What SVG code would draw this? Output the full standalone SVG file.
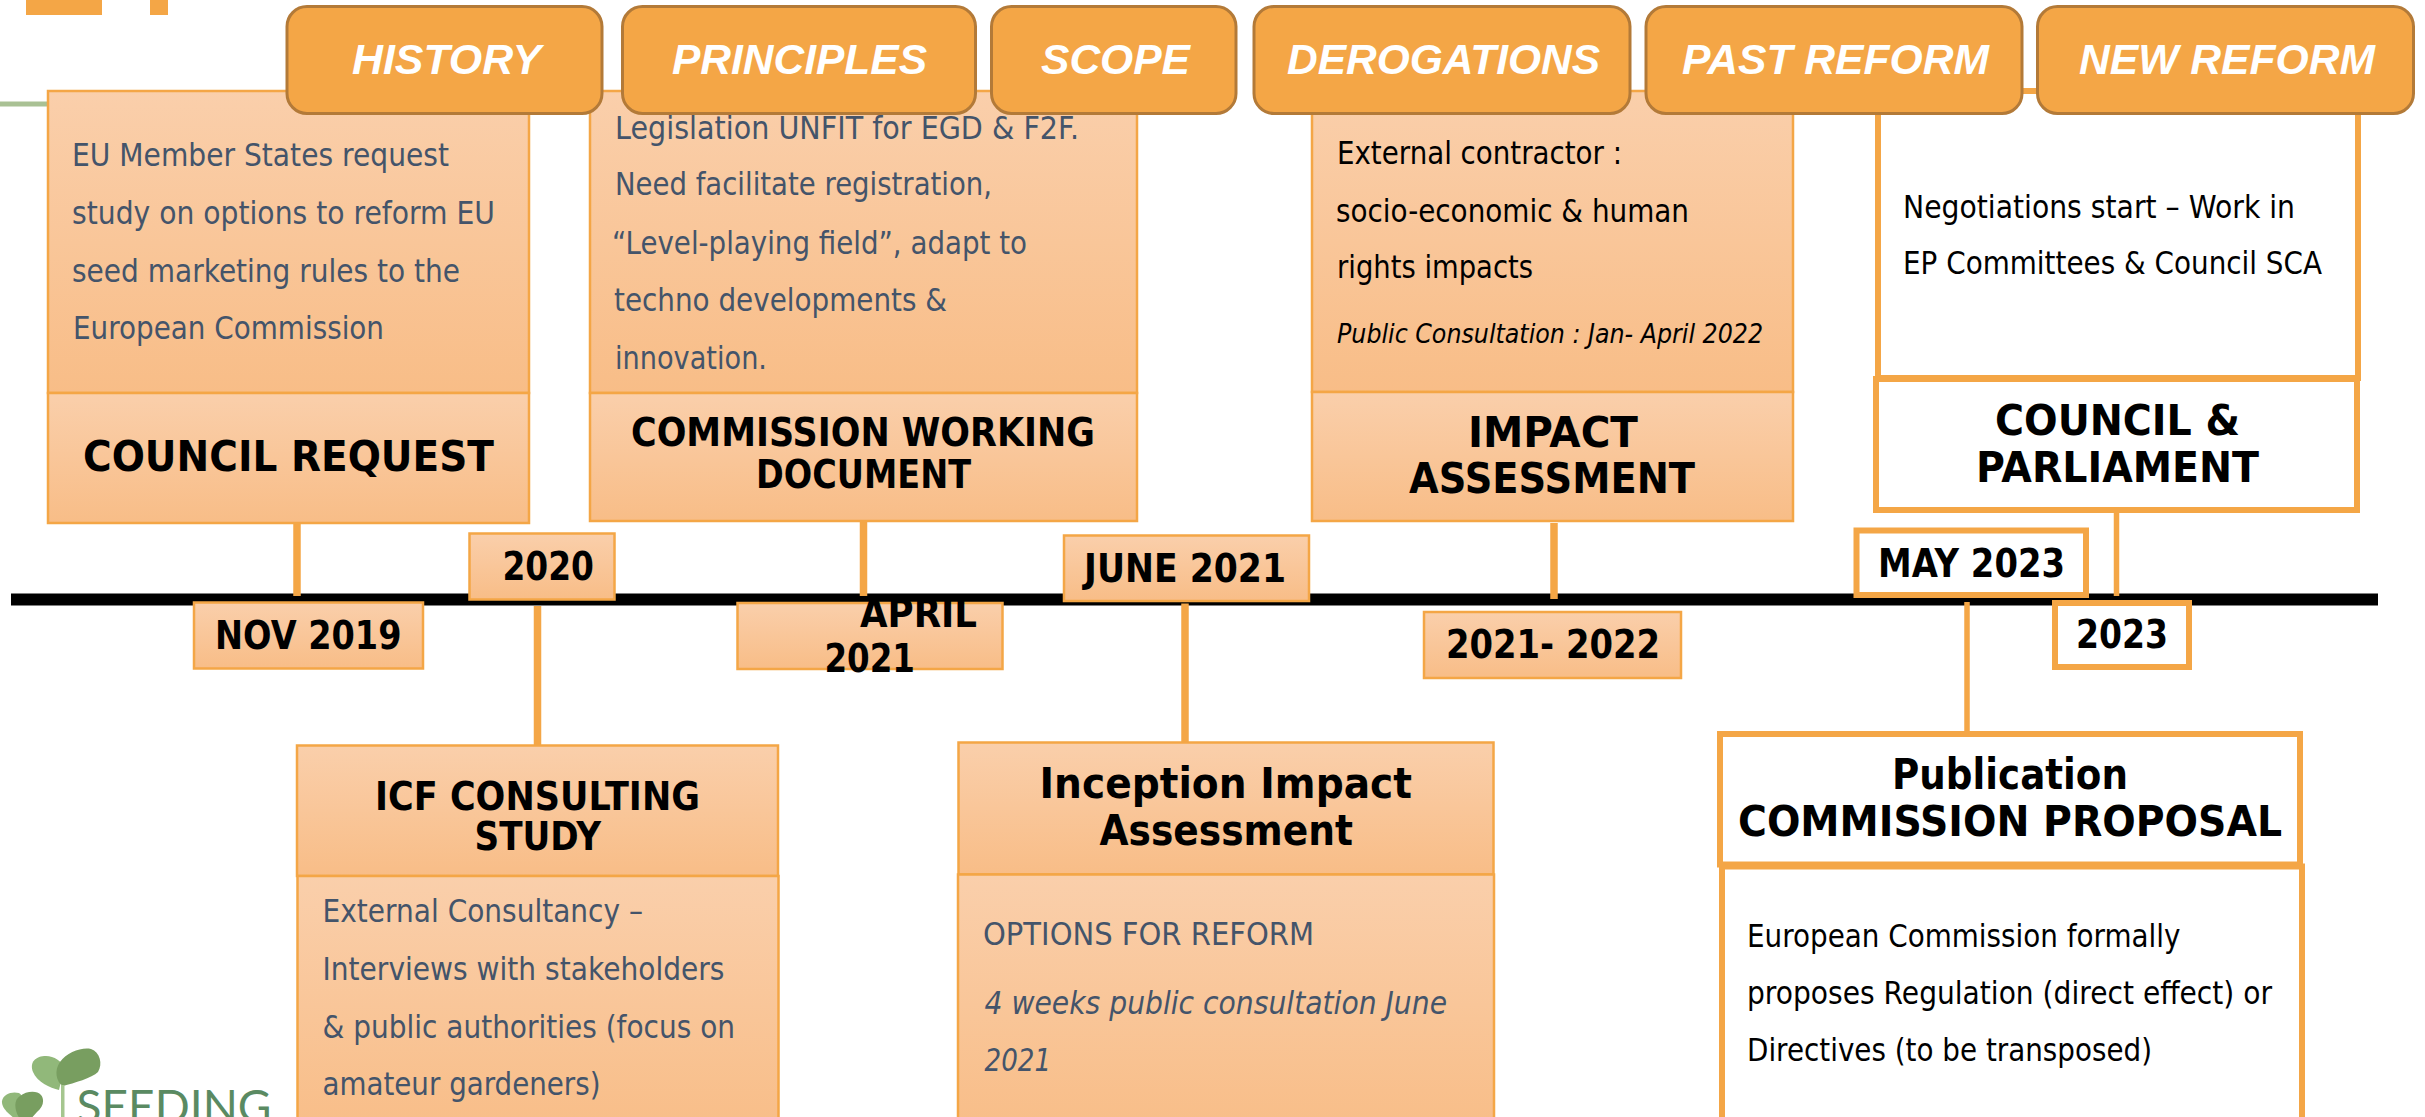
<svg xmlns="http://www.w3.org/2000/svg" width="2425" height="1117" viewBox="0 0 2425 1117">
<defs>
<linearGradient id="g" x1="0" y1="0" x2="0" y2="1"><stop offset="0" stop-color="#FACFAB"/><stop offset="1" stop-color="#F8BD87"/></linearGradient>
</defs>
<style>
text{font-family:"DejaVu Sans","Liberation Sans",sans-serif}
.a{fill:url(#g);stroke:#F4A646;stroke-width:2.5}
.w{fill:#fff;stroke:#F4A646;stroke-width:6}
.p{fill:#F4A646;stroke:#B37A38;stroke-width:3}
.pt{font-family:"Liberation Sans",Arial,sans-serif;font-weight:700;font-style:italic;font-size:42px;fill:#fff}
.t{font-weight:700;font-size:39px;fill:#000}
.T{font-weight:700;font-size:43px;fill:#000}
.b{font-size:32px;fill:#44546A}
.k{font-size:32px;fill:#000}
.c{stroke:#F4A646;stroke-width:7.5}
</style>
<g id="decor"><rect x="26" y="0" width="76" height="15" fill="#F4A646"/><rect x="150" y="0" width="18" height="15" fill="#F4A646"/><rect x="0" y="101.500" width="50" height="5" fill="#A9C194"/></g>
<g id="logo">
<path d="M59 1090C50 1088 37 1082 33 1072C29 1062 36 1056 46 1056C54 1056 62 1061 64 1068Z" fill="#91B87A"/>
<path d="M63 1086C56 1082 54 1070 60 1062C67 1052 82 1047 91 1049C100 1052 103 1064 98 1072C92 1078 74 1083 63 1086Z" fill="#789E60"/>
<path d="M20 1122C10 1116 1 1108 2 1101C3 1094 12 1091 19 1093C25 1097 27 1110 25 1122Z" fill="#91B87A"/>
<path d="M22 1122C14 1112 13 1100 20 1096C26 1091 37 1090 41 1095C45 1100 43 1107 37 1112L28 1122Z" fill="#789E60"/>
<rect x="61" y="1085" width="3.500" height="32" fill="#A5C68F"/>
<text x="76.500" y="1123" font-size="47" font-weight="400" fill="#5A8A62" style="font-family:Lato,'Open Sans',sans-serif" textLength="195" lengthAdjust="spacingAndGlyphs">SEEDING</text>
</g>
<g id="timeline"><rect x="11" y="593.500" width="2367" height="12" fill="#000"/></g>
<g id="connectors">
<line class="c" x1="297" y1="520" x2="297" y2="596"/>
<line class="c" x1="537.500" y1="606" x2="537.500" y2="748"/>
<line class="c" x1="863.500" y1="521" x2="863.500" y2="596"/>
<line class="c" x1="1185" y1="603.500" x2="1185" y2="743"/>
<line class="c" x1="1554" y1="523" x2="1554" y2="599"/>
<line class="c" x1="1967" y1="602" x2="1967" y2="741" style="stroke-width:5.500"/>
<line class="c" x1="2116.500" y1="510" x2="2116.500" y2="596" style="stroke-width:5.500"/>
</g>
<g id="council-request">
<rect class="a" x="48" y="91" width="481" height="302"/><rect class="a" x="48" y="393" width="481" height="130"/>
<g class="b"><text x="72" y="166" textLength="377" lengthAdjust="spacingAndGlyphs">EU Member States request</text><text x="72" y="224" textLength="423" lengthAdjust="spacingAndGlyphs">study on options to reform EU</text><text x="72" y="282" textLength="388" lengthAdjust="spacingAndGlyphs">seed marketing rules to the</text><text x="73" y="339" textLength="311" lengthAdjust="spacingAndGlyphs">European Commission</text></g>
<text class="T" x="83" y="471" textLength="411" lengthAdjust="spacingAndGlyphs">COUNCIL REQUEST</text></g>
<g id="working-document">
<rect class="a" x="590" y="91" width="547" height="302"/><rect class="a" x="590" y="393" width="547" height="128"/>
<g class="b"><text x="615" y="138.500" textLength="464" lengthAdjust="spacingAndGlyphs">Legislation UNFIT for EGD &amp; F2F.</text><text x="615" y="195" textLength="377" lengthAdjust="spacingAndGlyphs">Need facilitate registration,</text><text x="612" y="253.500" textLength="415" lengthAdjust="spacingAndGlyphs">“Level-playing field”, adapt to</text><text x="614" y="310.500" textLength="333" lengthAdjust="spacingAndGlyphs">techno developments &amp;</text><text x="615" y="368.500" textLength="152" lengthAdjust="spacingAndGlyphs">innovation.</text></g>
<text class="t" x="631" y="446" textLength="464" lengthAdjust="spacingAndGlyphs">COMMISSION WORKING</text><text class="t" x="756" y="487.500" textLength="215" lengthAdjust="spacingAndGlyphs">DOCUMENT</text></g>
<g id="impact-assessment">
<rect class="a" x="1312" y="91" width="481" height="301"/><rect class="a" x="1312" y="392" width="481" height="129"/>
<g fill="#000"><text class="k" x="1337" y="163.500" textLength="285" lengthAdjust="spacingAndGlyphs">External contractor :</text><text class="k" x="1336" y="221.500" textLength="353" lengthAdjust="spacingAndGlyphs">socio-economic &amp; human</text><text class="k" x="1337" y="278" textLength="196" lengthAdjust="spacingAndGlyphs">rights impacts</text><text x="1337" y="343" font-size="27" font-style="italic" textLength="426" lengthAdjust="spacingAndGlyphs">Public Consultation : Jan- April 2022</text></g>
<text class="T" x="1468" y="446.500" textLength="170" lengthAdjust="spacingAndGlyphs">IMPACT</text><text class="T" x="1409" y="493" textLength="286" lengthAdjust="spacingAndGlyphs">ASSESSMENT</text></g>
<g id="council-parliament">
<rect class="w" x="1878" y="91" width="480" height="287"/><rect class="w" x="1876" y="379" width="481" height="131"/>
<text class="k" x="1903" y="218" textLength="392" lengthAdjust="spacingAndGlyphs">Negotiations start – Work in</text><text class="k" x="1903" y="274" textLength="419" lengthAdjust="spacingAndGlyphs">EP Committees &amp; Council SCA</text>
<text class="T" x="1995" y="435" textLength="245" lengthAdjust="spacingAndGlyphs">COUNCIL &amp;</text><text class="T" x="1976" y="481.500" textLength="283" lengthAdjust="spacingAndGlyphs">PARLIAMENT</text></g>
<g id="nov-2019"><rect class="a" x="194" y="602.500" width="229" height="66"/><text class="t" x="215" y="648.500" textLength="186.500" lengthAdjust="spacingAndGlyphs">NOV 2019</text></g>
<g id="y2020"><rect class="a" x="469.500" y="533.500" width="145" height="66"/><text class="t" x="502.500" y="579.500" textLength="91.500" lengthAdjust="spacingAndGlyphs">2020</text></g>
<g id="april-2021"><rect class="a" x="737.500" y="603" width="265" height="66"/><text class="t" x="860" y="626.500" textLength="117" lengthAdjust="spacingAndGlyphs">APRIL</text><text class="t" x="824.500" y="671.500" textLength="90.500" lengthAdjust="spacingAndGlyphs">2021</text></g>
<g id="june-2021"><rect class="a" x="1064" y="535.500" width="245" height="65.500"/><text class="t" x="1084" y="581.500" textLength="202" lengthAdjust="spacingAndGlyphs">JUNE 2021</text></g>
<g id="y2021-2022"><rect class="a" x="1424" y="612" width="257" height="66"/><text class="t" x="1446" y="657.500" textLength="214" lengthAdjust="spacingAndGlyphs">2021- 2022</text></g>
<g id="may-2023"><rect class="w" x="1856.500" y="530.500" width="229.500" height="64.500"/><text class="t" x="1878" y="577" textLength="187" lengthAdjust="spacingAndGlyphs">MAY 2023</text></g>
<g id="y2023"><rect class="w" x="2055" y="603" width="134" height="64"/><text class="t" x="2076" y="647.500" textLength="92" lengthAdjust="spacingAndGlyphs">2023</text></g>
<g id="icf-study">
<rect class="a" x="297" y="745.500" width="481" height="130.500"/><rect class="a" x="297.500" y="876" width="481" height="260"/>
<text class="t" x="375" y="810" textLength="325" lengthAdjust="spacingAndGlyphs">ICF CONSULTING</text><text class="t" x="474.500" y="849.500" textLength="126.500" lengthAdjust="spacingAndGlyphs">STUDY</text>
<g class="b"><text x="322.500" y="922" textLength="320.500" lengthAdjust="spacingAndGlyphs">External Consultancy –</text><text x="322.500" y="980" textLength="402" lengthAdjust="spacingAndGlyphs">Interviews with stakeholders</text><text x="322.500" y="1037.500" textLength="412.500" lengthAdjust="spacingAndGlyphs">&amp; public authorities (focus on</text><text x="322.500" y="1095" textLength="278" lengthAdjust="spacingAndGlyphs">amateur gardeners)</text></g></g>
<g id="inception">
<rect class="a" x="958.500" y="742.500" width="535" height="132"/><rect class="a" x="958" y="874.500" width="536" height="260"/>
<text class="T" x="1039.500" y="798" textLength="372.500" lengthAdjust="spacingAndGlyphs">Inception Impact</text><text class="T" x="1099.500" y="844.500" textLength="253.500" lengthAdjust="spacingAndGlyphs">Assessment</text>
<g class="b"><text x="983" y="945" textLength="331" lengthAdjust="spacingAndGlyphs">OPTIONS FOR REFORM</text><text x="984.500" y="1013.500" font-style="italic" textLength="462.500" lengthAdjust="spacingAndGlyphs">4 weeks public consultation June</text><text x="984.500" y="1070.500" font-style="italic" textLength="66.500" lengthAdjust="spacingAndGlyphs">2021</text></g></g>
<g id="publication">
<rect class="w" x="1722" y="866.500" width="580" height="270"/><rect class="w" x="1720" y="734" width="580" height="130.500"/>
<text class="T" x="1892" y="789" textLength="236" lengthAdjust="spacingAndGlyphs">Publication</text><text class="T" x="1738" y="835.500" textLength="544" lengthAdjust="spacingAndGlyphs">COMMISSION PROPOSAL</text>
<text class="k" x="1747" y="946.500" textLength="433.500" lengthAdjust="spacingAndGlyphs">European Commission formally</text><text class="k" x="1747" y="1003.500" textLength="525" lengthAdjust="spacingAndGlyphs">proposes Regulation (direct effect) or</text><text class="k" x="1747" y="1061" textLength="405" lengthAdjust="spacingAndGlyphs">Directives (to be transposed)</text></g>
<g id="tabs">
<g id="tab-history"><rect class="p" x="287" y="6.500" width="315" height="107" rx="20"/><text class="pt" x="352" y="74" textLength="189" lengthAdjust="spacingAndGlyphs">HISTORY</text></g>
<g id="tab-principles"><rect class="p" x="622.500" y="6.500" width="353" height="107" rx="20"/><text class="pt" x="672" y="74" textLength="255" lengthAdjust="spacingAndGlyphs">PRINCIPLES</text></g>
<g id="tab-scope"><rect class="p" x="991.500" y="6.500" width="244.500" height="107" rx="20"/><text class="pt" x="1041" y="74" textLength="149" lengthAdjust="spacingAndGlyphs">SCOPE</text></g>
<g id="tab-derogations"><rect class="p" x="1254" y="6.500" width="376" height="107" rx="20"/><text class="pt" x="1287" y="74" textLength="313" lengthAdjust="spacingAndGlyphs">DEROGATIONS</text></g>
<g id="tab-past"><rect class="p" x="1646" y="6.500" width="376" height="107" rx="20"/><text class="pt" x="1682" y="74" textLength="307" lengthAdjust="spacingAndGlyphs">PAST REFORM</text></g>
<g id="tab-new"><rect class="p" x="2037.500" y="6.500" width="376" height="107" rx="20"/><text class="pt" x="2079" y="74" textLength="296" lengthAdjust="spacingAndGlyphs">NEW REFORM</text></g>
</g>
</svg>
